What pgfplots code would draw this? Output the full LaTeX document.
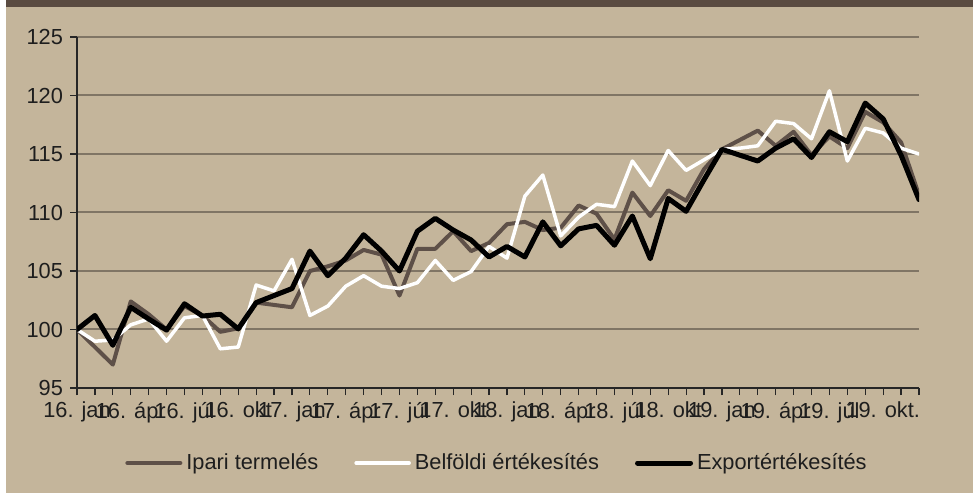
\documentclass[border=0pt]{standalone}
\usepackage{pgfplots}
\pgfplotsset{compat=1.18}
\usepackage{pgfplotstable}
\usepackage{fontspec}
\setmainfont{Liberation Sans}

\definecolor{bgtan}{RGB}{196,181,155}
\definecolor{bandbrown}{RGB}{90,75,65}
\definecolor{ipari}{RGB}{94,80,72}
\definecolor{gridc}{RGB}{128,117,101}
\definecolor{txt}{RGB}{30,30,30}

% havi indexek, 2016. jan = 0
\pgfplotstableread{
m ipari belf export
0 100.0 100.0 100.0
1 98.5 99.0 101.2
2 97.0 99.1 98.65
3 102.4 100.4 101.9
4 101.3 100.9 100.9
5 100.0 99.0 99.95
6 102.0 101.0 102.2
7 101.2 101.2 101.15
8 99.8 98.35 101.3
9 100.1 98.5 100.05
10 102.3 103.8 102.3
11 102.1 103.3 102.9
12 101.9 106.0 103.5
13 105.0 101.2 106.7
14 105.4 102.0 104.6
15 105.9 103.7 106.1
16 106.8 104.6 108.1
17 106.4 103.7 106.7
18 102.9 103.5 105.0
19 106.9 104.0 108.4
20 106.9 105.9 109.5
21 108.4 104.2 108.5
22 106.7 104.95 107.65
23 107.4 107.1 106.2
24 109.0 106.1 107.1
25 109.2 111.4 106.2
26 108.5 113.2 109.2
27 108.7 108.0 107.15
28 110.6 109.6 108.6
29 109.9 110.7 108.9
30 107.7 110.5 107.2
31 111.7 114.4 109.7
32 109.7 112.3 106.05
33 111.9 115.3 111.2
34 111.0 113.6 110.1
35 113.7 114.5 112.8
36 115.4 115.4 115.4
37 116.2 115.5 114.9
38 117.0 115.7 114.4
39 115.7 117.8 115.5
40 116.9 117.6 116.3
41 114.9 116.3 114.7
42 116.5 120.4 116.9
43 115.5 114.4 116.05
44 118.6 117.2 119.35
45 117.7 116.8 118.0
46 116.0 115.5 114.9
47 111.5 115.0 111.1
}\adat

\begin{document}
\begin{tikzpicture}
\useasboundingbox (0,0) rectangle (486.5bp,246.5bp);
\fill[bgtan] (0,0) rectangle (486.5bp,246.5bp);
\fill[white] (0,0) rectangle (3bp,246.5bp);
\fill[bandbrown] (3bp,243bp) rectangle (486.5bp,246.5bp);
\begin{axis}[
    at={(38.5bp,52.5bp)}, anchor=south west,
    width=421bp, height=175.5bp, scale only axis,
    font=\fontsize{10.9bp}{12bp}\selectfont,
    /pgf/number format/assume math mode=true,
    xmin=0, xmax=47, ymin=95, ymax=125,
    enlargelimits=false,
    axis lines=left,
    axis line style={-, draw=black!85, line width=0.9bp},
    ytick={95,100,...,125},
    xtick={0,3,...,45},
    minor xtick={0,...,47},
    xticklabels={16. jan,16. ápr,16. júl,16. okt,17. jan,17. ápr,17. júl,17. okt,18. jan,18. ápr,18. júl,18. okt,19. jan,19. ápr,19. júl,19. okt.},
    tick align=outside,
    major tick length=3.5bp, minor tick length=3.5bp,
    tick style={draw=black!85, line width=0.6bp},
    ymajorgrids,
    major grid style={draw=gridc, line width=1bp},
    tick label style={text=txt},
    legend columns=3,
    legend style={at={(0.5,-0.2137)}, anchor=center, draw=none, fill=none,
        text=txt, font=\fontsize{10.9bp}{12bp}\selectfont,
        /tikz/every even column/.append style={column sep=16bp}},
    legend image code/.code={\draw[#1] (0bp,0bp) -- (26.5bp,0bp);},
    every axis plot/.append style={line join=round, line cap=round, mark=none},
]
\addplot[draw=ipari, line width=2bp] table[x=m, y=ipari] {\adat};
\addlegendentry{Ipari termelés}
\addplot[draw=white, line width=1.75bp] table[x=m, y=belf] {\adat};
\addlegendentry{Belföldi értékesítés}
\addplot[draw=black, line width=2.5bp] table[x=m, y=export] {\adat};
\addlegendentry{Exportértékesítés}
\end{axis}
\end{tikzpicture}
\end{document}
